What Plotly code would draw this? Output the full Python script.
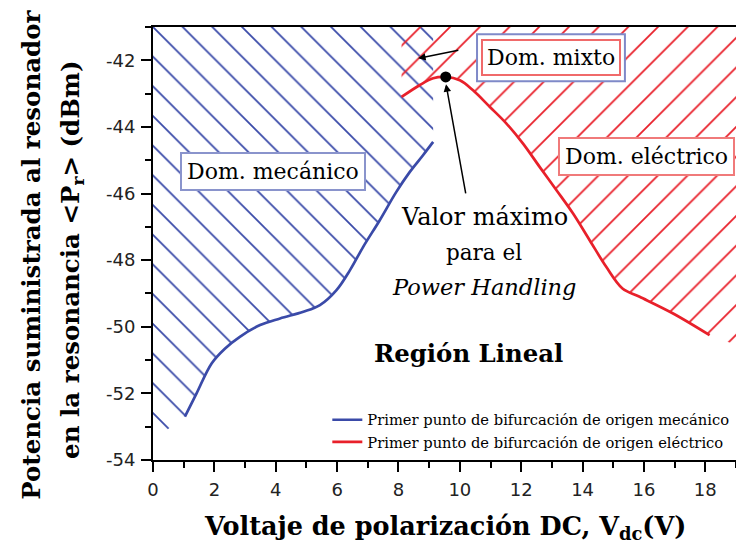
import plotly.graph_objects as go

# ---------------- data ----------------
x_range = [0, 19]
y_range = [-54, -41]

x_tickvals = [0, 2, 4, 6, 8, 10, 12, 14, 16, 18]
x_ticktext = ["0", "2", "4", "6", "8", "10", "12", "14", "16", "18"]
y_tickvals = [-54, -52, -50, -48, -46, -44, -42]
y_ticktext = ["-54", "-52", "-50", "-48", "-46", "-44", "-42"]

# first bifurcation point of mechanical origin (blue)
blue_x = [1.04, 1.42, 1.91, 2.35, 2.83, 3.49, 4.14, 4.9, 5.44, 5.98, 6.42, 6.85, 7.39, 7.93, 8.37, 8.8, 9.13]
blue_y = [-52.7, -52.0, -51.1, -50.65, -50.3, -49.95, -49.75, -49.55, -49.35, -48.9, -48.3, -47.6, -46.8, -45.95, -45.35, -44.85, -44.45]

# first bifurcation point of electrical origin (red)
red_x = [8.1, 8.7, 9.13, 9.54, 10.0, 10.43, 10.98, 11.52, 12.06, 12.6, 13.15, 13.69, 14.23, 14.77, 15.3, 15.86, 16.95, 18.14]
red_y = [-43.1, -42.74, -42.54, -42.5, -42.6, -42.9, -43.4, -43.9, -44.5, -45.2, -45.9, -46.6, -47.4, -48.2, -48.85, -49.1, -49.6, -50.25]

# maximum power handling point
peak_x = [9.54]
peak_y = [-42.5]

# extra hatch boundary points
blue_hatch_corner_y = -53.4   # at x = 0
red_hatch_end_y = -50.55      # at x = 19

blue_name = "Primer punto de bifurcación de origen mecánico"
red_name = "Primer punto de bifurcación de origen eléctrico"

BLUE = "#3a4aa8"
RED = "#e8202a"
SERIF = "DejaVu Serif"

fig = go.Figure()

# hatched mechanical domain
fig.add_trace(go.Scatter(
    x=[x_range[0]] + blue_x + [blue_x[-1], x_range[0]],
    y=[blue_hatch_corner_y] + blue_y + [y_range[1], y_range[1]],
    fill="toself", fillcolor="rgba(0,0,0,0)", mode="lines", line=dict(width=0),
    fillpattern=dict(shape="\\", fgcolor=BLUE, fgopacity=1, bgcolor="rgba(0,0,0,0)",
                     size=21, solidity=0.085),
    showlegend=False, hoverinfo="skip"))

# hatched electrical domain
fig.add_trace(go.Scatter(
    x=red_x + [x_range[1], x_range[1], red_x[0]],
    y=red_y + [red_hatch_end_y, y_range[1], y_range[1]],
    fill="toself", fillcolor="rgba(0,0,0,0)", mode="lines", line=dict(width=0),
    fillpattern=dict(shape="/", fgcolor=RED, fgopacity=1, bgcolor="rgba(0,0,0,0)",
                     size=21, solidity=0.085),
    showlegend=False, hoverinfo="skip"))

fig.add_trace(go.Scatter(x=blue_x, y=blue_y, mode="lines", name=blue_name,
                         line=dict(color=BLUE, width=2.7, shape="spline")))
fig.add_trace(go.Scatter(x=red_x, y=red_y, mode="lines", name=red_name,
                         line=dict(color=RED, width=2.7, shape="spline")))
fig.add_trace(go.Scatter(x=peak_x, y=peak_y, mode="markers", showlegend=False,
                         marker=dict(color="black", size=11)))

annotations = []

def box(text, x, y, border, pad=5):
    annotations.append(dict(x=x, y=y, xref="x", yref="y", text=text, showarrow=False,
                            xanchor="center", yanchor="middle",
                            font=dict(family=SERIF, size=22, color="black"),
                            bgcolor="white", bordercolor=border, borderwidth=2, borderpad=pad))

box("Dom. mecánico", 3.9, -45.34, "#8a94cc")
box("Dom. mixto", 12.97, -41.92, "#f06a6a", pad=4)
box("Dom. eléctrico", 16.07, -44.9, "#f07a7a")

for txt, yy, sz in [("Valor máximo", -46.7, 24), ("para el", -47.76, 21.5),
                    ("<i>Power Handling</i>", -48.8, 22.5)]:
    annotations.append(dict(x=10.8, y=yy, xref="x", yref="y", text=txt, showarrow=False,
                            xanchor="center", yanchor="middle",
                            font=dict(family=SERIF, size=sz, color="black")))

annotations.append(dict(x=10.27, y=-50.79, xref="x", yref="y", text="<b>Región Lineal</b>",
                        showarrow=False, xanchor="center", yanchor="middle",
                        font=dict(family=SERIF, size=24.4, color="black")))

# arrows
annotations.append(dict(x=8.64, y=-41.94, ax=10.0, ay=-41.69, xref="x", yref="y",
                        axref="x", ayref="y", text="", showarrow=True, arrowhead=2,
                        arrowsize=1, arrowwidth=1.5, arrowcolor="black"))
annotations.append(dict(x=9.55, y=-42.72, ax=10.2, ay=-46.04, xref="x", yref="y",
                        axref="x", ayref="y", text="", showarrow=True, arrowhead=2,
                        arrowsize=1, arrowwidth=1.5, arrowcolor="black"))

# axis titles
annotations.append(dict(x=-0.2075, y=0.474, xref="paper", yref="paper", textangle=-90,
                        xanchor="center", yanchor="middle",
                        text="<b>Potencia suministrada al resonador</b>", showarrow=False,
                        font=dict(family=SERIF, size=24.5, color="black")))
annotations.append(dict(x=-0.139, y=0.462, xref="paper", yref="paper", textangle=-90,
                        xanchor="center", yanchor="middle",
                        text="<b>en la resonancia &lt;P<sub>r</sub>&gt; (dBm)</b>", showarrow=False,
                        font=dict(family=SERIF, size=24.5, color="black")))
annotations.append(dict(x=0.5, y=-0.155, xref="paper", yref="paper",
                        xanchor="center", yanchor="middle",
                        text="<b>Voltaje de polarización DC, V<sub>dc</sub>(V)</b>", showarrow=False,
                        font=dict(family=SERIF, size=25.5, color="black")))

shapes = [dict(type="rect", xref="x", yref="y", x0=10.56, x1=15.38, y0=-42.63, y1=-41.22,
               line=dict(color="#7f89c8", width=2), fillcolor="white", layer="above")]

axis_common = dict(ticks="outside", ticklen=10, tickwidth=2, tickcolor="black",
                   showline=True, linecolor="black", linewidth=2, showgrid=False, zeroline=False,
                   tickfont=dict(family="DejaVu Sans", size=18, color="#222"),
                   minor=dict(dtick=1, ticks="outside", ticklen=6, tickwidth=2, tickcolor="black"))

fig.update_layout(
    width=736, height=556,
    margin=dict(l=153, r=0, t=27, b=96),
    plot_bgcolor="white", paper_bgcolor="white",
    xaxis=dict(range=x_range, tickmode="array", tickvals=x_tickvals, ticktext=x_ticktext,
               mirror=True, ticklabelstandoff=2, **axis_common),
    yaxis=dict(range=y_range, tickmode="array", tickvals=y_tickvals, ticktext=y_ticktext,
               ticklabelstandoff=2, **axis_common),
    legend=dict(x=0.299, y=0.13, xanchor="left", yanchor="top", bgcolor="white",
                font=dict(family=SERIF, size=14.7, color="black")),
    annotations=annotations,
    shapes=shapes,
)

fig.write_html("out.html")
